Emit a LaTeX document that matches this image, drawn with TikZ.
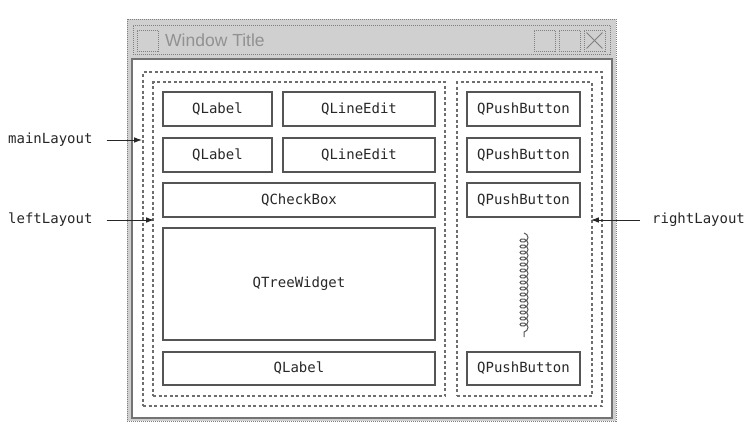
\documentclass[tikz,border=0pt]{standalone}
\usepackage{fontspec}
\setmainfont{Liberation Sans}
\setmonofont{DejaVu Sans Mono}
\usetikzlibrary{arrows.meta,decorations.pathmorphing}
\definecolor{framegray}{RGB}{208,208,208}
\definecolor{dotgray}{RGB}{128,128,128}
\definecolor{laygray}{RGB}{110,110,110}
\definecolor{boxgray}{RGB}{85,85,85}
\definecolor{txtgray}{RGB}{40,40,40}
\definecolor{titlegray}{RGB}{145,145,145}
\definecolor{clientedge}{RGB}{115,115,115}
\begin{document}
\begin{tikzpicture}[x=1pt,y=-1pt,
  widget/.style={draw=boxgray, line width=1.5pt, fill=white, inner sep=0pt,
    font=\ttfamily\fontsize{14}{16}\selectfont, text=txtgray},
  layoutbox/.style={draw=laygray, line width=1.7pt, dash pattern=on 3pt off 2.5pt, inner sep=0pt},
  winbtn/.style={draw=dotgray, line width=0.9pt, dash pattern=on 1pt off 1pt, inner sep=0pt,
    minimum width=21pt, minimum height=21pt},
  lbl/.style={font=\ttfamily\fontsize{14}{16}\selectfont, text=black!85, inner sep=0pt},
  pointer/.style={-{Latex[length=8pt,width=5.5pt]}, line width=1pt, black!85}
]
\useasboundingbox (0,0) rectangle (756,429);
% window frame
\node[draw=dotgray, fill=framegray, line width=0.9pt, dash pattern=on 1pt off 1pt,
  minimum width=489pt, minimum height=402pt, inner sep=0pt] (win) at (371.5,220) {};
\node[draw=dotgray, line width=0.9pt, dash pattern=on 1pt off 1pt,
  minimum width=477pt, minimum height=29pt, inner sep=0pt] (titlebar) at (371.5,39.5) {};
\node[winbtn] (sysbox) at (147.5,40.5) {};
\node[anchor=west, inner sep=0pt, text=titlegray, font=\fontsize{17.5}{20}\selectfont] (title) at (165,40) {Window Title};
\node[winbtn] (minbtn) at (544.5,40.5) {};
\node[winbtn] (maxbtn) at (569.5,40.5) {};
\node[winbtn] (closebtn) at (594.5,40.5) {};
\draw[dotgray, line width=0.9pt] ([shift={(3pt,-3pt)}]closebtn.north west) -- ([shift={(-3pt,3pt)}]closebtn.south east);
\draw[dotgray, line width=0.9pt] ([shift={(3pt,3pt)}]closebtn.south west) -- ([shift={(-3pt,-3pt)}]closebtn.north east);
% client area
\node[draw=clientedge, fill=white, line width=2.5pt, minimum width=480pt, minimum height=359pt, inner sep=0pt] (client) at (372,238.5) {};
% layouts
\node[layoutbox, minimum width=459pt, minimum height=334pt] (mainL) at (372.5,239) {};
\node[layoutbox, minimum width=292pt, minimum height=314pt] (leftL) at (299,239) {};
\node[layoutbox, minimum width=135pt, minimum height=314pt] (rightL) at (524.5,239) {};
% widgets left
\node[widget, minimum width=109pt, minimum height=34pt] (lab1) at (217.5,109) {QLabel};
\node[widget, minimum width=152pt, minimum height=34pt] (edit1) at (359,109) {QLineEdit};
\node[widget, minimum width=109pt, minimum height=34pt] (lab2) at (217.5,155) {QLabel};
\node[widget, minimum width=152pt, minimum height=34pt] (edit2) at (359,155) {QLineEdit};
\node[widget, minimum width=272pt, minimum height=34pt] (check) at (299,200) {QCheckBox};
\node[widget, minimum width=272pt, minimum height=112pt] (tree) at (299,284) {QTreeWidget};
\node[widget, minimum width=272pt, minimum height=33pt] (lab3) at (299,368.5) {QLabel};
% widgets right
\node[widget, minimum width=113pt, minimum height=34pt] (pb1) at (523.5,109) {QPushButton};
\node[widget, minimum width=113pt, minimum height=34pt] (pb2) at (523.5,155) {QPushButton};
\node[widget, minimum width=113pt, minimum height=34pt] (pb3) at (523.5,200) {QPushButton};
\node[widget, minimum width=113pt, minimum height=33pt] (pb4) at (523.5,368.5) {QPushButton};
% spacer spring
\coordinate (sprtop) at (524,233);
\coordinate (sprbot) at (524,337);
\draw[boxgray, line width=1pt, decorate,
  decoration={coil, aspect=0.75, segment length=6pt, amplitude=4pt}] (sprtop) -- (sprbot);
% labels
\node[lbl, anchor=west] (mlab) at (8,140) {mainLayout};
\node[lbl, anchor=west] (llab) at (8,220) {leftLayout};
\node[lbl, anchor=west] (rlab) at (652,220) {rightLayout};
\draw[pointer] ([xshift=14pt]mlab.east) -- (mlab.east -| mainL.west);
\draw[pointer] ([xshift=14pt]llab.east) -- ([xshift=2pt]llab.east -| leftL.west);
\draw[pointer] ([xshift=-12pt]rlab.west) -- ([xshift=-2pt]rlab.west -| rightL.east);
\end{tikzpicture}
\end{document}
